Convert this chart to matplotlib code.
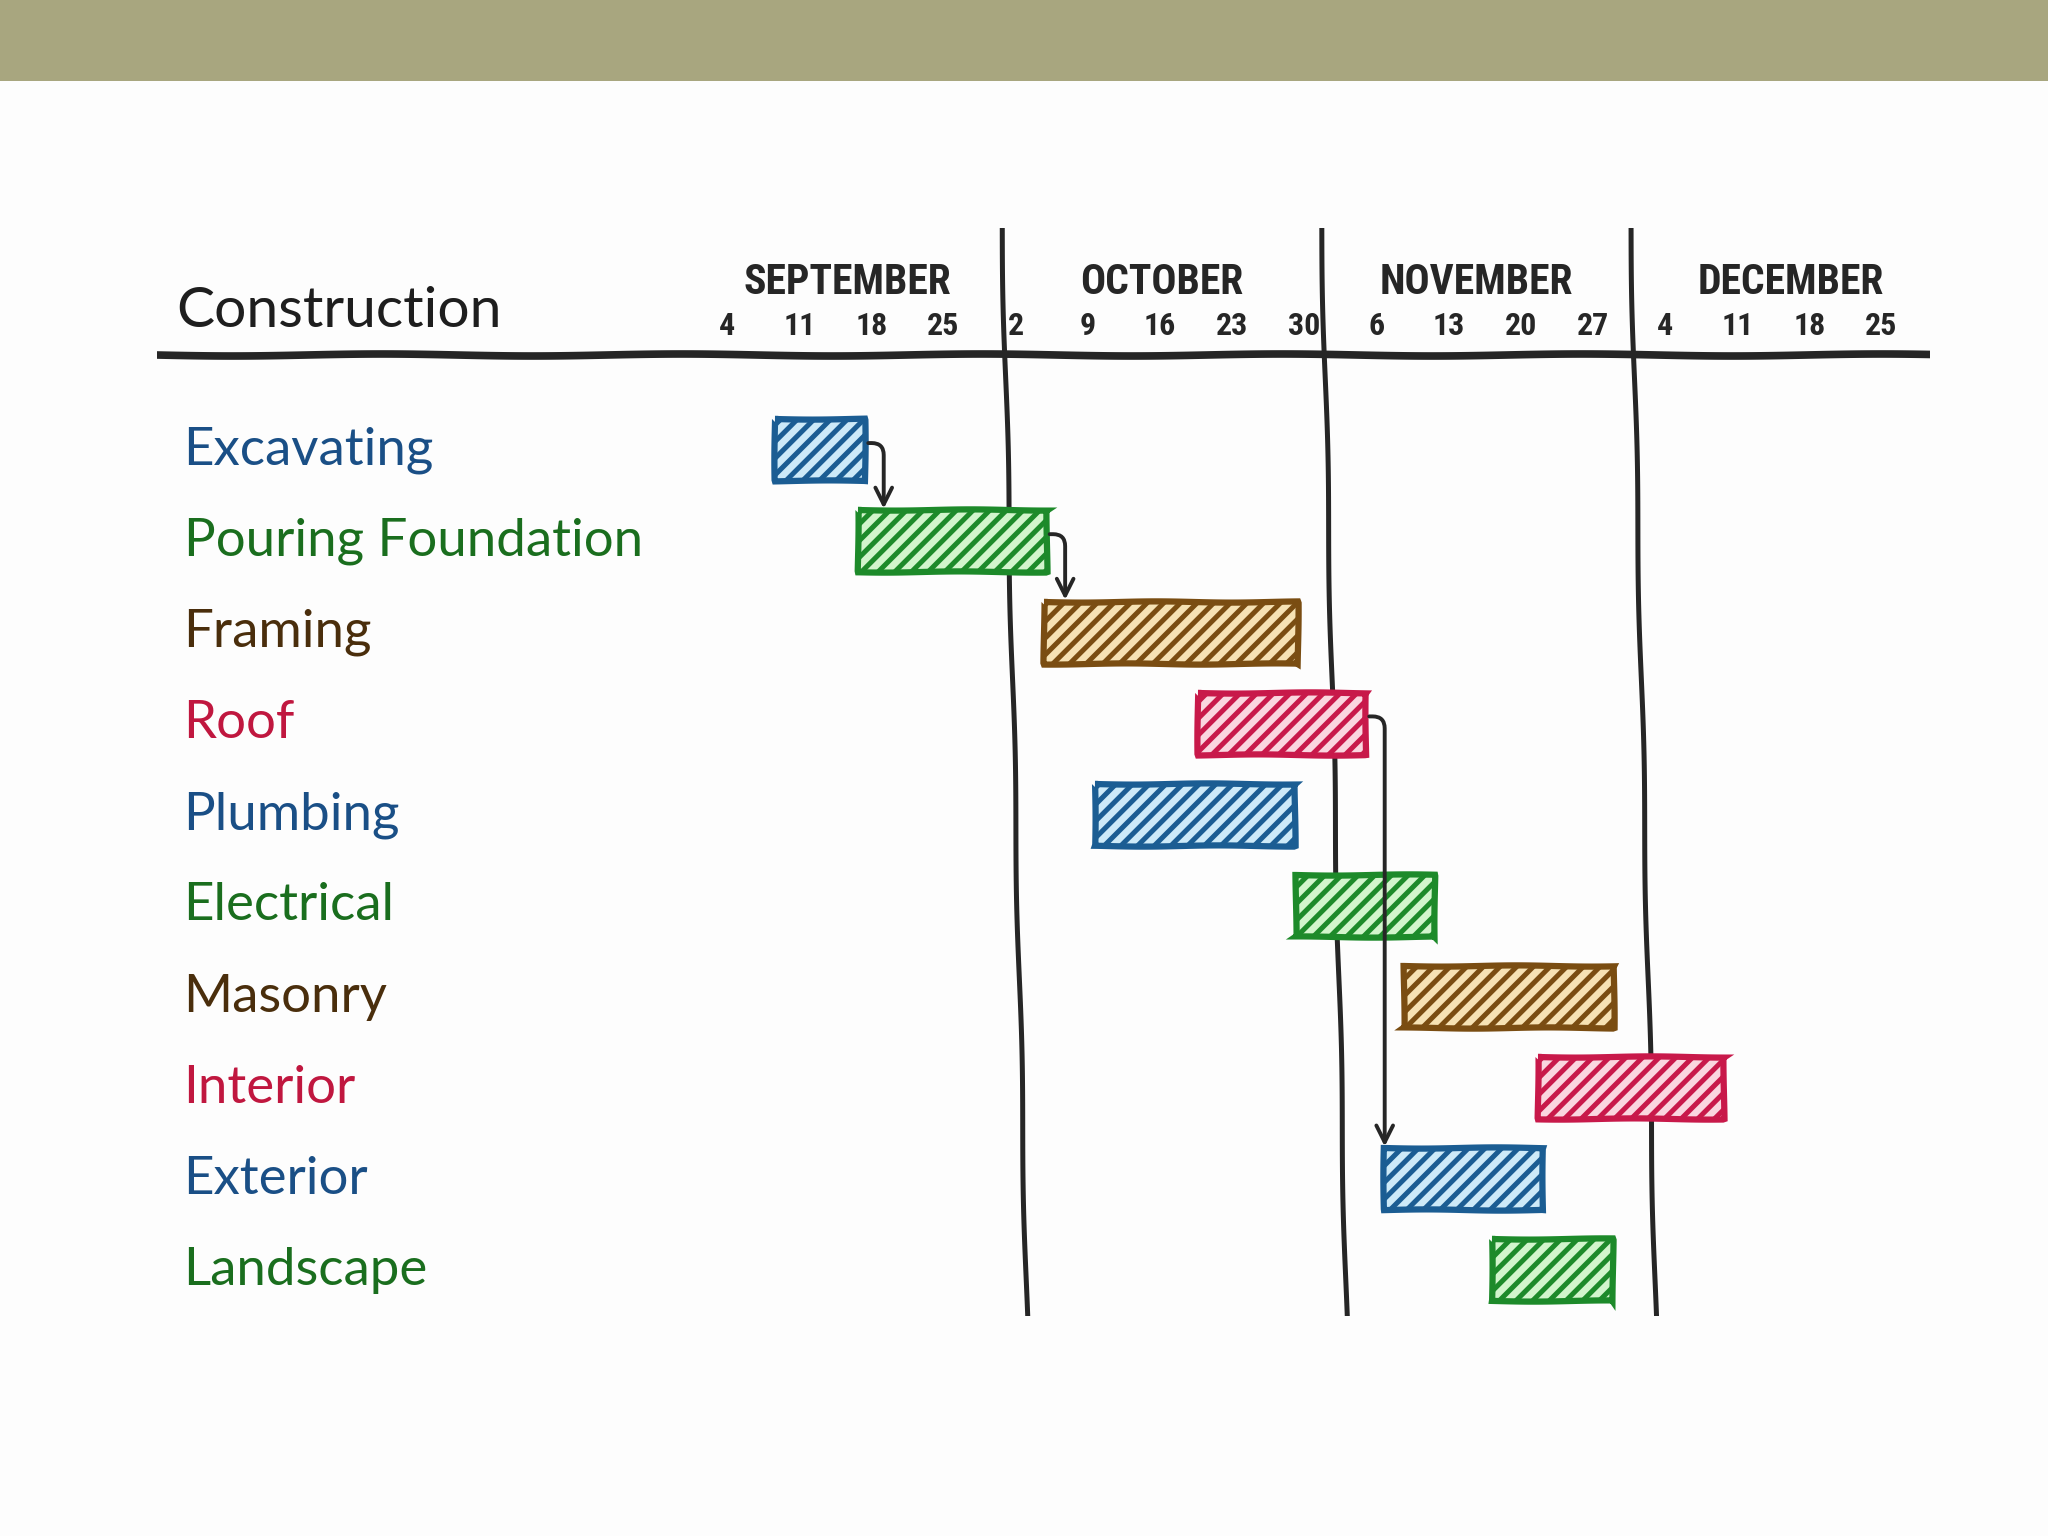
import matplotlib
matplotlib.use("Agg")
import matplotlib.pyplot as plt
import matplotlib.transforms as mtransforms
from matplotlib.patches import Rectangle

# ---------------- data ----------------
title = "Construction"
tasks = ["Excavating", "Pouring Foundation", "Framing", "Roof", "Plumbing",
         "Electrical", "Masonry", "Interior", "Exterior", "Landscape"]
# start / end in days after Sep 4
starts = [5, 13, 31, 46, 36, 55.5, 66, 79, 64, 74.5]
ends = [13.7, 31.3, 55.7, 62.3, 55.4, 69, 86.3, 97, 79.5, 86.2]
color_group = [0, 1, 2, 3, 0, 1, 2, 3, 0, 1]
# dependencies (from task index -> to task index)
deps = [(0, 1), (1, 2), (3, 8)]

months = ["SEPTEMBER", "OCTOBER", "NOVEMBER", "DECEMBER"]
month_starts = [-3, 27, 58, 88, 119]          # day offsets of 1st of month
week_days = [0, 7, 14, 21, 28, 35, 42, 49, 56, 63, 70, 77, 84, 91, 98, 105, 112]
week_labels = ["4", "11", "18", "25", "2", "9", "16", "23", "30",
               "6", "13", "20", "27", "4", "11", "18", "25"]

# ---------------- style ----------------
edge_colors = ["#1b5d93", "#1d8a2a", "#7a4d12", "#c8194a"]
fill_colors = ["#cdeaf8", "#d2f5cc", "#f6e2b4", "#fad6df"]
text_colors = ["#1a4f86", "#1a6e1e", "#4a2e0c", "#c0173f"]
ink = "#262626"

plt.rcParams["hatch.linewidth"] = 3.6
plt.rcParams["font.family"] = ["Lato", "DejaVu Sans"]
cond = ["Roboto Condensed", "Roboto", "DejaVu Sans"]

fig = plt.figure(figsize=(20.48, 15.36), dpi=100)
fig.patch.set_facecolor("#fdfdfd")

# top olive band
band = fig.add_axes([0, 1 - 81 / 1536, 1, 81 / 1536])
band.set_facecolor("#a8a67f")
band.set_xticks([]); band.set_yticks([])
for s in band.spines.values():
    s.set_visible(False)

ax = fig.add_axes([157 / 2048, 1 - 1316 / 1536, (1930 - 157) / 2048, (1316 - 228) / 1536])
ax.set_facecolor("none")
ax.set_xlim(-55, 117)
ax.set_ylim(9.5, -2.44)
ax.axis("off")

sketch = (1.0, 300, 1)

# header rule
hl = ax.axhline(-1.05, xmin=0, xmax=1, color=ink, lw=5.5, solid_capstyle="round")
hl.set_sketch_params(*sketch)

# month separators (slightly slanted, hand drawn)
tilt = 2.4
for m in month_starts[1:4]:
    ln, = ax.plot([m, m + tilt], [-2.44, 9.5], color=ink, lw=3.6, solid_capstyle="round")
    ln.set_sketch_params(*sketch)

# month names and week labels
for i, name in enumerate(months):
    mid = (month_starts[i] + month_starts[i + 1]) / 2
    ax.text(mid, -1.84, name, ha="center", va="center", fontsize=30,
            fontweight="bold", color=ink, family=cond)
for d, lab in zip(week_days, week_labels):
    ax.text(d + 0.3, -1.37, lab, ha="center", va="center", fontsize=23,
            fontweight="bold", color=ink, family=cond)

# title
trans = mtransforms.blended_transform_factory(ax.transAxes, ax.transData)
ax.text(0.011, -1.52, title, transform=trans, ha="left", va="center",
        fontsize=41, color="#1e1e1e")

# task labels and bars
bar_h = 0.68
for i, (t, s, e, g) in enumerate(zip(tasks, starts, ends, color_group)):
    ax.text(0.015, i, t, transform=trans, ha="left", va="center",
            fontsize=38, color=text_colors[g])
    r = Rectangle((s, i - bar_h / 2), e - s, bar_h, facecolor=fill_colors[g],
                  edgecolor=edge_colors[g], hatch="//", lw=4.5, zorder=3)
    r.set_sketch_params(0.6, 150, 1)
    ax.add_patch(r)

# dependency arrows
for a, b in deps:
    x0 = ends[a] + 0.3
    x1 = ends[a] + 1.8
    ax.annotate("", xy=(x1, b - bar_h / 2 - 0.02), xytext=(x0, a - 0.08),
                arrowprops=dict(arrowstyle="->", color=ink, lw=2.8,
                                mutation_scale=30,
                                connectionstyle="angle,angleA=0,angleB=90,rad=12",
                                shrinkA=0, shrinkB=0),
                zorder=4)

fig.savefig("out.png", dpi=100, facecolor=fig.get_facecolor())
